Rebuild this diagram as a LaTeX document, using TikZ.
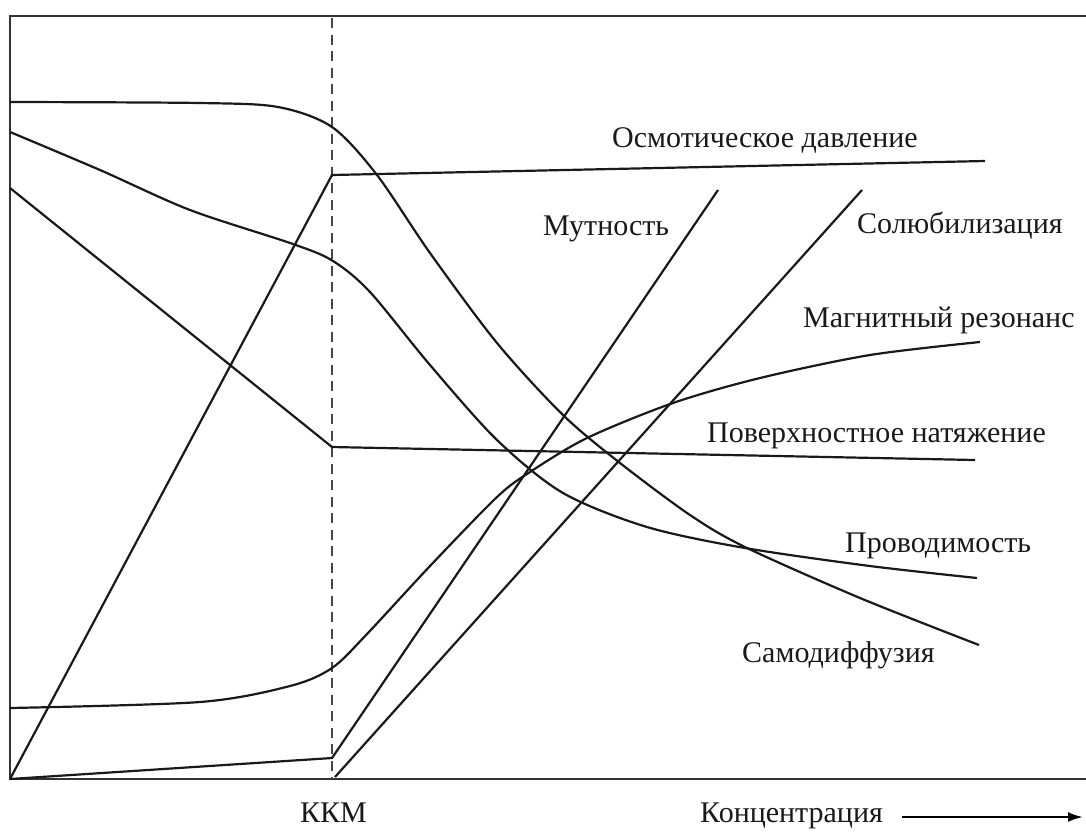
\documentclass[tikz,border=0pt]{standalone}
\usepackage{fontspec}
\setmainfont{Liberation Serif}
\usetikzlibrary{arrows.meta}
\begin{document}
\begin{tikzpicture}[x=1pt,y=-1pt,
  curve/.style={line width=2.2pt,black!90},
  frameline/.style={line width=2.6pt,black!80},
  kkmline/.style={line width=2.8pt,black!72,dash pattern=on 10pt off 6.5pt},
  lbl/.style={inner sep=0pt,anchor=base west,font=\fontsize{30}{34}\selectfont,text=black!90}]
\useasboundingbox (0,0) rectangle (1086,831);
% frame
\coordinate (tl) at (10,16);
\coordinate (tr) at (1086,16);
\coordinate (bl) at (10,779);
\coordinate (br) at (1086,779);
\draw[frameline] (tr) -- (tl) -- (bl) -- (br);
% KKM dashed line
\coordinate (kt) at (332,18);
\coordinate (kb) at (332,779);
\draw[kkmline] (kt) -- (kb);
% Osmotic pressure
\coordinate (o0) at (10,779);
\coordinate (o1) at (332,175);
\coordinate (o2) at (985,161);
\draw[curve] (o0) -- (o1) -- (o2);
% Surface tension
\coordinate (s0) at (10,188);
\coordinate (s1) at (332,447);
\coordinate (s2) at (975,460);
\draw[curve] (s0) -- (s1) -- (s2);
% Turbidity
\coordinate (m0) at (10,779);
\coordinate (m1) at (332,758);
\coordinate (m2) at (718,190);
\draw[curve] (m0) -- (m1) -- (m2);
% Solubilization
\coordinate (c0) at (335,777);
\coordinate (c1) at (862,190);
\draw[curve] (c0) -- (c1);
% Self-diffusion
\draw[curve] plot[smooth,tension=0.5] coordinates {(10,102) (200,103) (278,107) (332,127) (377,175) (430,253) (497,343) (563,415) (620,463) (690,515) (745,547) (860,598) (979,645)};
% Conductivity
\draw[curve] plot[smooth,tension=0.5] coordinates {(10,132) (100,170) (190,210) (293,244) (333,261) (370,292) (430,365) (497,440) (563,493) (647,527) (745,548) (870,566) (977,578)};
% Magnetic resonance
\draw[curve] plot[smooth,tension=0.5] coordinates {(10,708) (200,702) (290,686) (332,668) (367,634) (430,566) (497,497) (530,472) (587,438) (673,403) (760,378) (870,355) (980,342)};
% labels
\node[lbl] (losm) at (612,147) {Осмотическое давление};
\node[lbl] (lmut) at (543,235) {Мутность};
\node[lbl] (lsol) at (857,233) {Солюбилизация};
\node[lbl] (lmag) at (803,327) {Магнитный резонанс};
\node[lbl] (lpov) at (707,442) {Поверхностное натяжение};
\node[lbl] (lpro) at (845,552) {Проводимость};
\node[lbl] (lsam) at (742,662) {Самодиффузия};
\node[lbl] (lkkm) at (300,822) {ККМ};
\node[lbl] (lkon) at (700,822) {Концентрация};
\coordinate (ae) at (1083,817);
\draw[line width=2.2pt,-{Latex[length=15pt,width=10pt]}] ([xshift=19pt]lkon.east |- ae) -- (ae);
\end{tikzpicture}
\end{document}
